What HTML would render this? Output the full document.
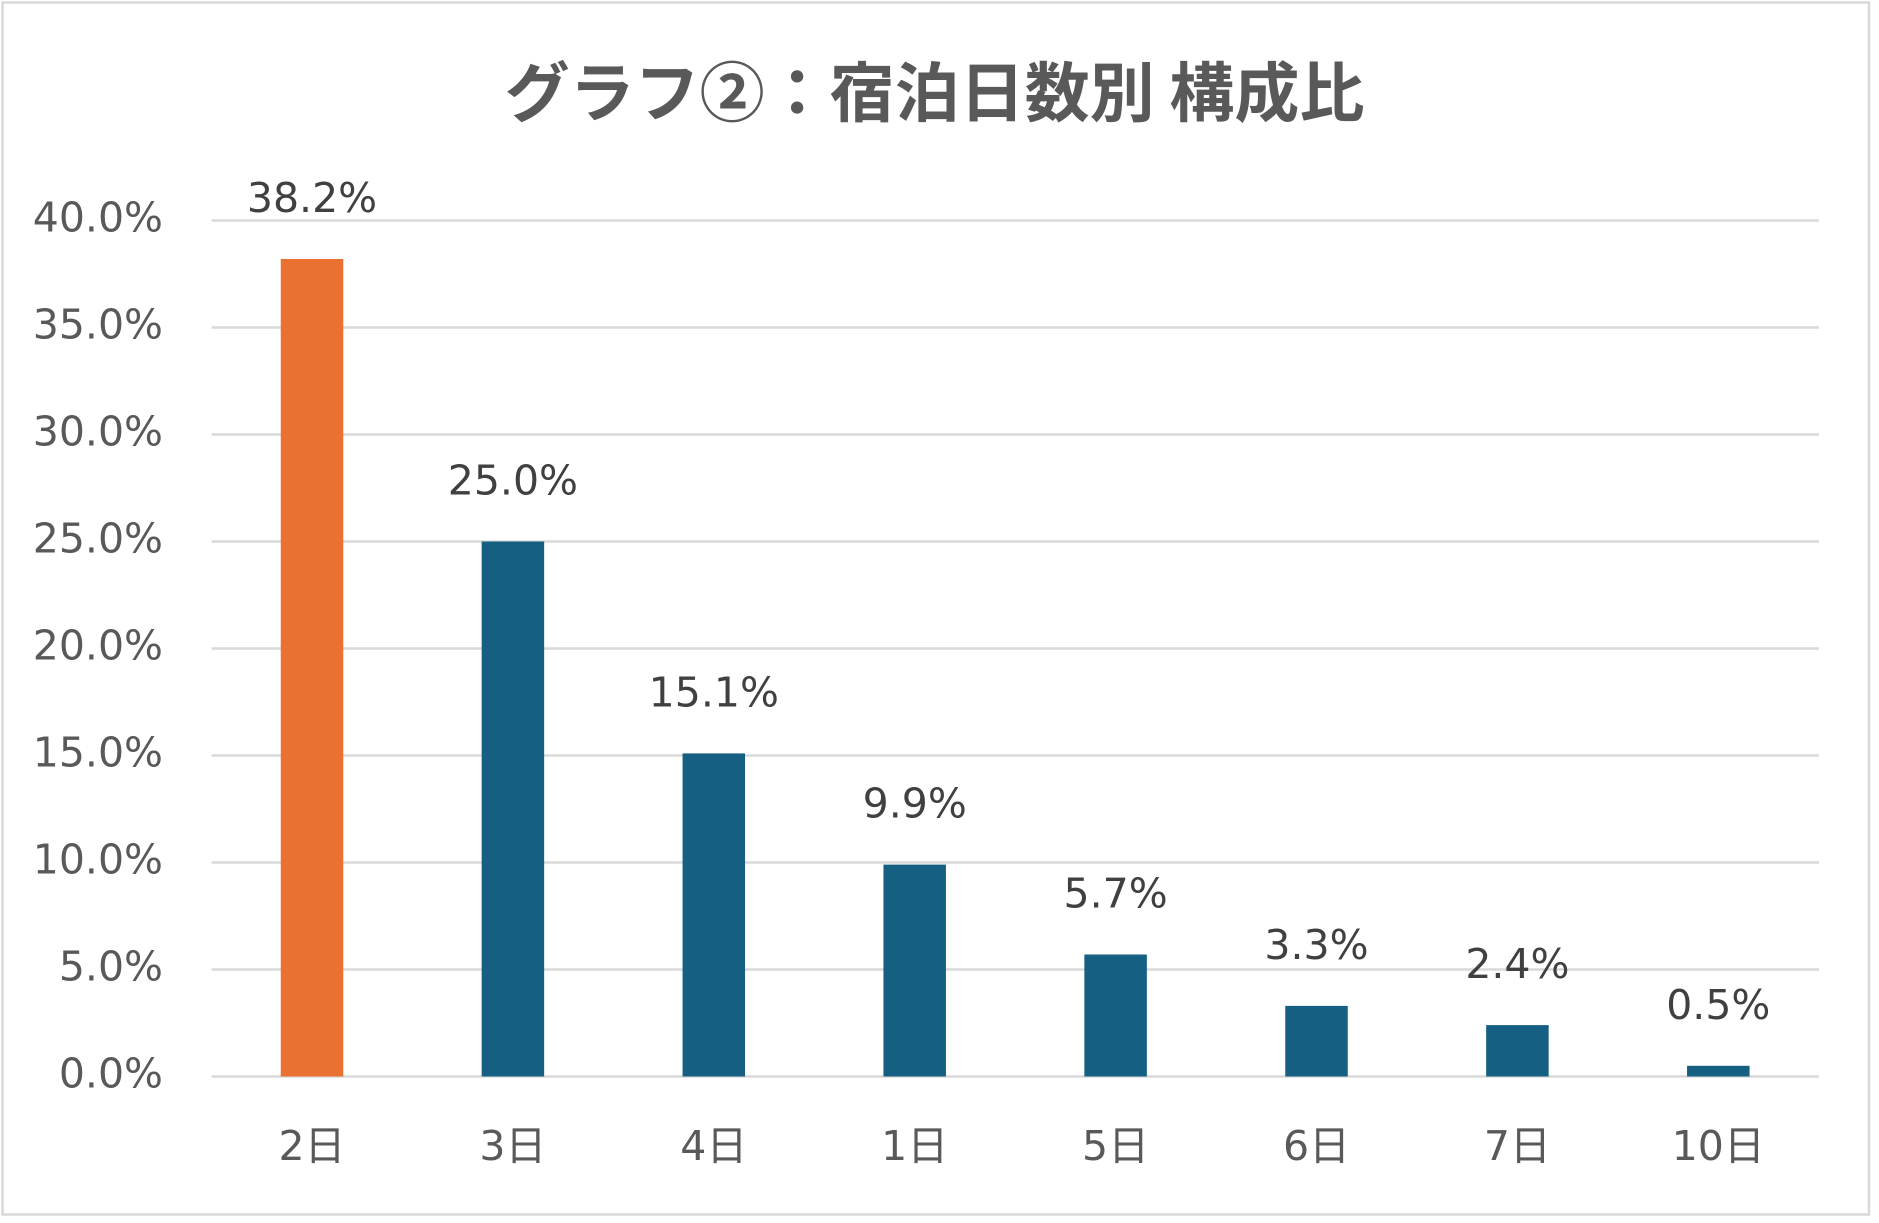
<!DOCTYPE html>
<html>
<head>
<meta charset="utf-8">
<style>
  html,body{margin:0;padding:0;background:#fff;}
  body{width:1879px;height:1223px;overflow:hidden;}
  svg{display:block;}
  .ax{font-family:"DejaVu Sans","Liberation Sans","Noto Sans CJK JP",sans-serif;font-size:41px;fill:#595959;}
  .dl{font-family:"DejaVu Sans","Liberation Sans",sans-serif;font-size:41px;fill:#404040;}
  .ttl{font-family:"Noto Sans CJK JP","Liberation Sans",sans-serif;font-size:65px;font-weight:bold;fill:#595959;}
</style>
</head>
<body>
<svg width="1879" height="1223" viewBox="0 0 1879 1223" xmlns="http://www.w3.org/2000/svg">
  <rect x="0" y="0" width="1879" height="1223" fill="#fff"/>
  <rect x="2.5" y="2.5" width="1866.5" height="1212" fill="#fff" stroke="#d9d9d9" stroke-width="2.5"/>

  <text class="ttl" x="934.5" y="116" text-anchor="middle">グラフ②：宿泊日数別 構成比</text>

  <!-- gridlines -->
  <g stroke="#d9d9d9" stroke-width="2.5">
    <line x1="211.6" y1="220.5" x2="1819" y2="220.5"/>
    <line x1="211.6" y1="327.5" x2="1819" y2="327.5"/>
    <line x1="211.6" y1="434.5" x2="1819" y2="434.5"/>
    <line x1="211.6" y1="541.5" x2="1819" y2="541.5"/>
    <line x1="211.6" y1="648.5" x2="1819" y2="648.5"/>
    <line x1="211.6" y1="755.5" x2="1819" y2="755.5"/>
    <line x1="211.6" y1="862.5" x2="1819" y2="862.5"/>
    <line x1="211.6" y1="969.5" x2="1819" y2="969.5"/>
    <line x1="211.6" y1="1076.5" x2="1819" y2="1076.5"/>
  </g>

  <!-- y axis labels -->
  <g class="ax" text-anchor="end">
    <text x="163" y="231.5">40.0%</text>
    <text x="163" y="338.5">35.0%</text>
    <text x="163" y="445.5">30.0%</text>
    <text x="163" y="552.5">25.0%</text>
    <text x="163" y="659.5">20.0%</text>
    <text x="163" y="766.5">15.0%</text>
    <text x="163" y="873.5">10.0%</text>
    <text x="163" y="980.5">5.0%</text>
    <text x="163" y="1087.5">0.0%</text>
  </g>

  <!-- bars: center = 312 + i*200.9, width 62.5, 21.4 px per % -->
  <rect x="280.75" y="259" width="62.5" height="817.5" fill="#e97132"/>
  <rect x="481.65" y="541.5" width="62.5" height="535" fill="#156082"/>
  <rect x="682.55" y="753.4" width="62.5" height="323.1" fill="#156082"/>
  <rect x="883.45" y="864.6" width="62.5" height="211.9" fill="#156082"/>
  <rect x="1084.35" y="954.5" width="62.5" height="122" fill="#156082"/>
  <rect x="1285.25" y="1005.9" width="62.5" height="70.6" fill="#156082"/>
  <rect x="1486.15" y="1025.1" width="62.5" height="51.4" fill="#156082"/>
  <rect x="1687.05" y="1065.8" width="62.5" height="10.7" fill="#156082"/>

  <!-- data labels -->
  <g class="dl" text-anchor="middle">
    <text x="312" y="212">38.2%</text>
    <text x="512.9" y="494.5">25.0%</text>
    <text x="713.8" y="706.4">15.1%</text>
    <text x="914.7" y="817.6">9.9%</text>
    <text x="1115.6" y="907.5">5.7%</text>
    <text x="1316.5" y="958.9">3.3%</text>
    <text x="1517.4" y="978.1">2.4%</text>
    <text x="1718.3" y="1018.8">0.5%</text>
  </g>

  <!-- category labels -->
  <g class="ax" text-anchor="middle">
    <text x="312" y="1160">2日</text>
    <text x="512.9" y="1160">3日</text>
    <text x="713.8" y="1160">4日</text>
    <text x="914.7" y="1160">1日</text>
    <text x="1115.6" y="1160">5日</text>
    <text x="1316.5" y="1160">6日</text>
    <text x="1517.4" y="1160">7日</text>
    <text x="1718.3" y="1160">10日</text>
  </g>
</svg>
</body>
</html>
